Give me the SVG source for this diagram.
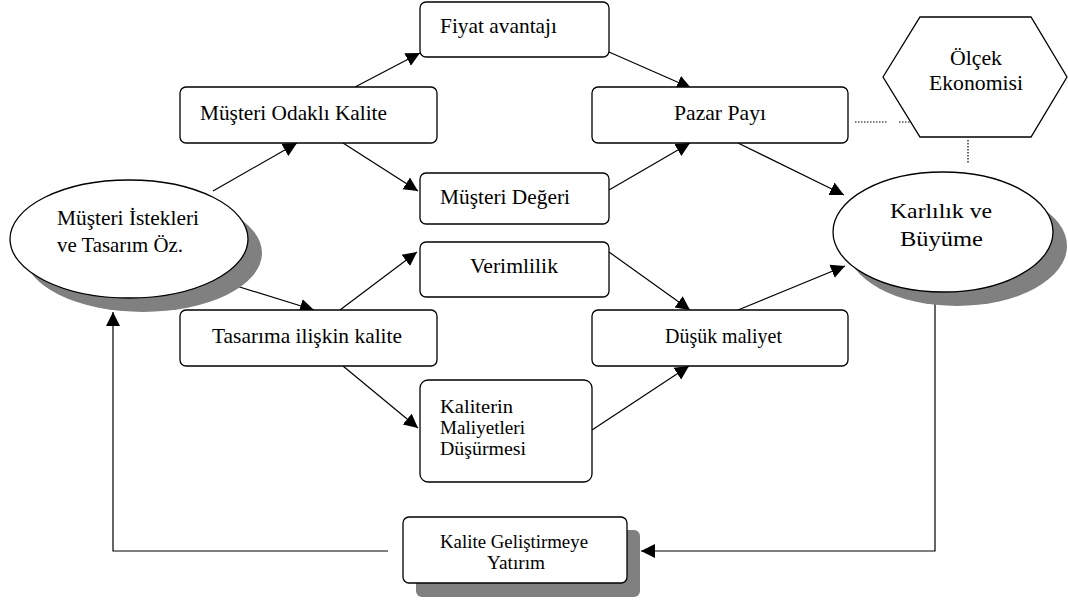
<svg xmlns="http://www.w3.org/2000/svg" width="1068" height="602" viewBox="0 0 1068 602">
<defs>
<style>
.box{fill:#fff;stroke:#000;stroke-width:1.3}
.shadow{fill:#808080;stroke:none}
.t{font-family:"Liberation Serif","Times New Roman",serif;font-size:21px;fill:#000}
.s{font-family:"Liberation Serif","Times New Roman",serif;font-size:19px;fill:#000}
.c{fill:none;stroke:#000;stroke-width:1.2}
.d{fill:none;stroke:#000;stroke-width:1.2;stroke-dasharray:1.5 1.5}
</style>
<marker id="ah" markerUnits="userSpaceOnUse" markerWidth="16" markerHeight="16" viewBox="0 0 16 16" refX="14" refY="8" orient="auto">
<path d="M0,1 L14,8 L0,15 Z" fill="#000"/>
</marker>
</defs>
<rect width="1068" height="602" fill="#fff"/>

<g id="connectors">
<line class="c" x1="213" y1="191" x2="297" y2="143" marker-end="url(#ah)"/>
<line class="c" x1="355" y1="87" x2="420" y2="53" marker-end="url(#ah)"/>
<line class="c" x1="343" y1="143" x2="418" y2="191" marker-end="url(#ah)"/>
<line class="c" x1="609" y1="52" x2="691" y2="88" marker-end="url(#ah)"/>
<line class="c" x1="609" y1="190" x2="690" y2="143" marker-end="url(#ah)"/>
<line class="c" x1="738" y1="143" x2="844" y2="195" marker-end="url(#ah)"/>
<line class="c" x1="230" y1="284" x2="314" y2="310" marker-end="url(#ah)"/>
<line class="c" x1="340" y1="310" x2="417" y2="252" marker-end="url(#ah)"/>
<line class="c" x1="343" y1="366" x2="418" y2="428" marker-end="url(#ah)"/>
<line class="c" x1="609" y1="252" x2="690" y2="310" marker-end="url(#ah)"/>
<line class="c" x1="592" y1="430" x2="689" y2="366" marker-end="url(#ah)"/>
<line class="c" x1="738" y1="310" x2="845" y2="266" marker-end="url(#ah)"/>
<polyline class="c" points="935,292 935,551 641,551" marker-end="url(#ah)"/>
<polyline class="c" points="388,551 113,551 113,312" marker-end="url(#ah)"/>
<line class="d" x1="855" y1="122" x2="888" y2="122"/>
<line class="d" x1="899" y1="122" x2="912" y2="122"/>
<line class="d" x1="968" y1="140" x2="968" y2="163"/>
</g>

<g id="musteri-istekleri">
<ellipse class="shadow" cx="143" cy="253" rx="119" ry="59"/>
<ellipse class="box" cx="129" cy="239" rx="119" ry="59"/>
<text class="t" x="57" y="225" textLength="142" lengthAdjust="spacingAndGlyphs">Müşteri İstekleri</text>
<text class="t" x="57" y="252" textLength="126" lengthAdjust="spacingAndGlyphs">ve Tasarım Öz.</text>
</g>

<g id="musteri-odakli-kalite">
<rect class="box" x="180" y="87" width="257" height="56" rx="6"/>
<text class="t" x="200" y="120" textLength="187" lengthAdjust="spacingAndGlyphs">Müşteri Odaklı Kalite</text>
</g>

<g id="fiyat-avantaji">
<rect class="box" x="420" y="2" width="189" height="55" rx="6"/>
<text class="t" x="440" y="33" textLength="117" lengthAdjust="spacingAndGlyphs">Fiyat avantajı</text>
</g>

<g id="musteri-degeri">
<rect class="box" x="420" y="173" width="189" height="51" rx="6"/>
<text class="t" x="440" y="204" textLength="130" lengthAdjust="spacingAndGlyphs">Müşteri Değeri</text>
</g>

<g id="verimlilik">
<rect class="box" x="420" y="242" width="189" height="55" rx="6"/>
<text class="t" x="470" y="273" textLength="88" lengthAdjust="spacingAndGlyphs">Verimlilik</text>
</g>

<g id="tasarima-iliskin-kalite">
<rect class="box" x="180" y="310" width="257" height="56" rx="6"/>
<text class="t" x="212" y="343" textLength="190" lengthAdjust="spacingAndGlyphs">Tasarıma ilişkin kalite</text>
</g>

<g id="kaliterin-maliyetleri">
<rect class="box" x="420" y="380" width="172" height="102" rx="8"/>
<text class="s" x="440" y="413" textLength="73" lengthAdjust="spacingAndGlyphs">Kaliterin</text>
<text class="s" x="440" y="434" textLength="85" lengthAdjust="spacingAndGlyphs">Maliyetleri</text>
<text class="s" x="440" y="455" textLength="86" lengthAdjust="spacingAndGlyphs">Düşürmesi</text>
</g>

<g id="pazar-payi">
<rect class="box" x="592" y="87" width="256" height="56" rx="6"/>
<text class="t" x="674" y="120" textLength="92" lengthAdjust="spacingAndGlyphs">Pazar Payı</text>
</g>

<g id="dusuk-maliyet">
<rect class="box" x="592" y="310" width="256" height="56" rx="6"/>
<text class="t" x="665" y="343" textLength="117" lengthAdjust="spacingAndGlyphs">Düşük maliyet</text>
</g>

<g id="olcek-ekonomisi">
<polygon class="box" points="883,77 920,17 1031,17 1067,77 1031,137 920,137"/>
<text class="t" x="950" y="65" textLength="52" lengthAdjust="spacingAndGlyphs">Ölçek</text>
<text class="t" x="929" y="90" textLength="94" lengthAdjust="spacingAndGlyphs">Ekonomisi</text>
</g>

<g id="karlilik-buyume">
<ellipse class="shadow" cx="957" cy="246" rx="110" ry="60"/>
<ellipse class="box" cx="943" cy="232" rx="110" ry="60"/>
<text class="t" x="890" y="218" textLength="102" lengthAdjust="spacingAndGlyphs">Karlılık ve</text>
<text class="t" x="900" y="246" textLength="83" lengthAdjust="spacingAndGlyphs">Büyüme</text>
</g>

<g id="kalite-gelistirmeye">
<rect class="shadow" x="416" y="530" width="224" height="67" rx="6"/>
<rect class="box" x="403" y="517" width="224" height="66" rx="6"/>
<text class="s" x="440" y="548" textLength="148" lengthAdjust="spacingAndGlyphs">Kalite Geliştirmeye</text>
<text class="s" x="487" y="569" textLength="58" lengthAdjust="spacingAndGlyphs">Yatırım</text>
</g>
</svg>
